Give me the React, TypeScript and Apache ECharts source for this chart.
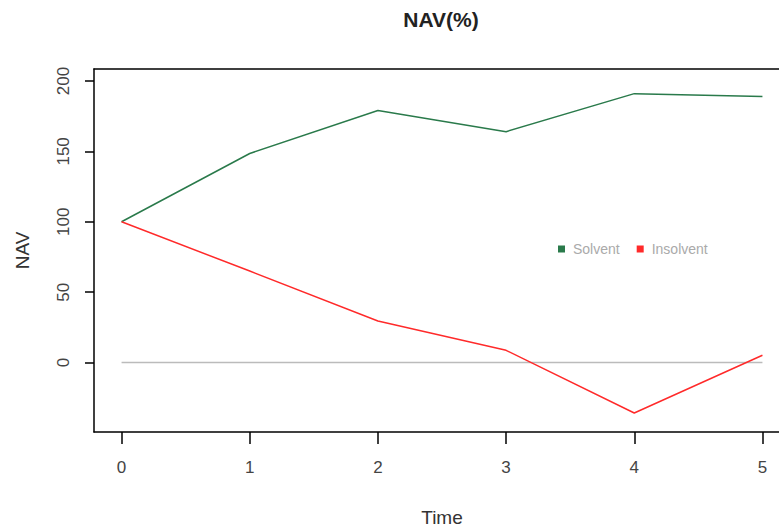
import React, { useEffect, useRef } from "react";
import * as echarts from "echarts";

const times = [0, 1, 2, 3, 4, 5];
const solvent = [100, 148.5, 179, 164, 191, 189];
const insolvent = [100, 65, 29.5, 8.7, -35.8, 5.2];
const zeroLine = [0, 0];
const zeroX = [0, 5];
const yTicks = [0, 50, 100, 150, 200];
const xTicks = [0, 1, 2, 3, 4, 5];

const FONT = "'Liberation Sans', Arial, sans-serif";
const GREEN = "#2a7a4b";
const RED = "#ff2a2a";
const X_MIN = -0.215;
const X_MAX = 5.215;

export default function App() {
  const ref = useRef<HTMLDivElement>(null);
  useEffect(() => {
    if (!ref.current) return;
    const chart = echarts.init(ref.current, null, { renderer: "svg" });
    chart.setOption({
      animation: false,
      backgroundColor: "#fff",
      title: {
        text: "NAV(%)",
        left: 441,
        top: 9,
        padding: 0,
        textAlign: "center",
        textStyle: { fontFamily: FONT, fontSize: 21, fontWeight: "bold", color: "#222" },
      },
      legend: {
        data: ["Solvent", "Insolvent"],
        left: 558,
        top: 242,
        itemWidth: 7,
        itemHeight: 7,
        itemGap: 17,
        icon: "rect",
        padding: 0,
        textStyle: { fontFamily: FONT, fontSize: 14, color: "#aaaaaa", padding: [0, 0, 0, 3] },
      },
      grid: {
        left: 94,
        top: 69,
        width: 696,
        height: 363,
        show: false,
        outerBoundsMode: "none",
        containLabel: false,
      },
      xAxis: [
        {
          type: "value",
          min: X_MIN,
          max: X_MAX,
          position: "bottom",
          name: "Time",
          nameLocation: "middle",
          nameGap: 76,
          nameTextStyle: { fontFamily: FONT, fontSize: 19, color: "#333" },
          axisLine: { show: true, onZero: false, lineStyle: { color: "#000", width: 1.5 } },
          splitLine: { show: false },
          axisTick: { show: true, length: 12, lineStyle: { color: "#000", width: 1.5 }, customValues: xTicks },
          axisLabel: { margin: 27, fontFamily: FONT, fontSize: 17, color: "#444", customValues: xTicks },
        },
        {
          type: "value",
          min: X_MIN,
          max: X_MAX,
          position: "top",
          axisLine: { show: true, onZero: false, lineStyle: { color: "#000", width: 1.5 } },
          splitLine: { show: false },
          axisTick: { show: false },
          axisLabel: { show: false },
        },
      ],
      yAxis: {
        type: "value",
        min: -49.3,
        max: 208.5,
        position: "left",
        name: "NAV",
        nameLocation: "middle",
        nameGap: 62,
        nameTextStyle: { fontFamily: FONT, fontSize: 19, color: "#333" },
        axisLine: { show: true, onZero: false, lineStyle: { color: "#000", width: 1.5 } },
        splitLine: { show: false },
        axisTick: { show: true, length: 9, lineStyle: { color: "#000", width: 1.5 }, customValues: yTicks },
        axisLabel: { rotate: 90, margin: 22, fontFamily: FONT, fontSize: 17, color: "#444", customValues: yTicks },
      },
      series: [
        {
          name: "zero",
          type: "line",
          data: zeroX.map((x, i) => [x, zeroLine[i]]),
          showSymbol: false,
          lineStyle: { color: "#bbbbbb", width: 1.5 },
          silent: true,
        },
        {
          name: "Solvent",
          type: "line",
          data: times.map((t, i) => [t, solvent[i]]),
          showSymbol: false,
          itemStyle: { color: GREEN },
          lineStyle: { color: GREEN, width: 1.5 },
        },
        {
          name: "Insolvent",
          type: "line",
          data: times.map((t, i) => [t, insolvent[i]]),
          showSymbol: false,
          itemStyle: { color: RED },
          lineStyle: { color: RED, width: 1.5 },
        },
      ],
    });
    return () => chart.dispose();
  }, []);
  return <div ref={ref} style={{ width: 779, height: 527, position: "absolute", left: 0, top: 0 }} />;
}
